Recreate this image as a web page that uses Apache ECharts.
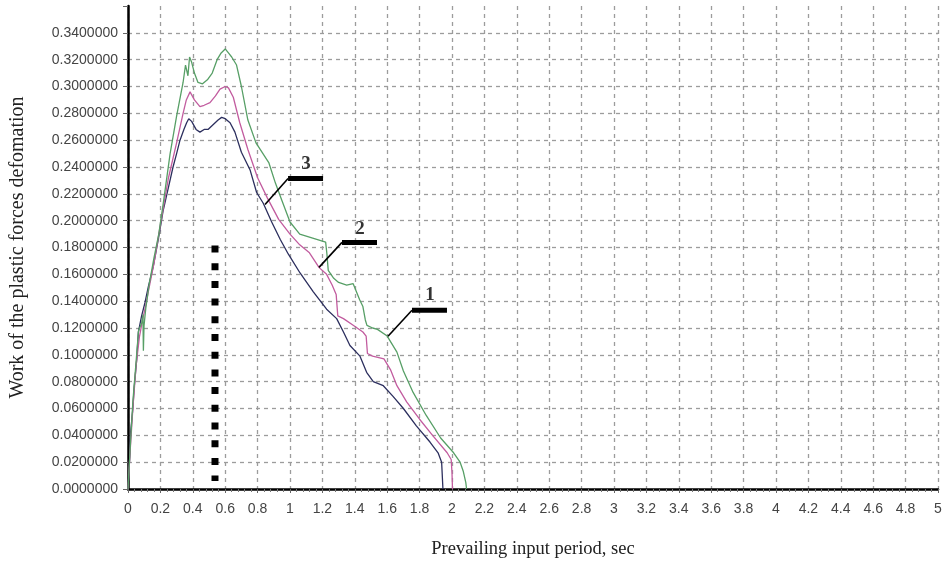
<!DOCTYPE html>
<html>
<head>
<meta charset="utf-8">
<script src="https://cdn.jsdelivr.net/npm/echarts@6/dist/echarts.min.js"></script>
<style>
  html, body { margin: 0; padding: 0; background: #fff; }
  #chart { width: 947px; height: 564px; }
</style>
</head>
<body>
<div id="chart"></div>
<script>
// Curve 1 (upper, green)
const curve1Period = [0, 0.012, 0.03, 0.05, 0.065, 0.085, 0.092, 0.095, 0.099, 0.11, 0.13, 0.16, 0.19, 0.22, 0.26, 0.30, 0.34, 0.355, 0.37, 0.38, 0.393, 0.41, 0.432, 0.46, 0.49, 0.52, 0.55, 0.575, 0.6, 0.62, 0.64, 0.67, 0.70, 0.74, 0.79, 0.87, 0.91, 0.95, 1.0, 1.06, 1.14, 1.22, 1.228, 1.236, 1.27, 1.30, 1.35, 1.39, 1.43, 1.45, 1.465, 1.475, 1.51, 1.54, 1.60, 1.66, 1.70, 1.76, 1.84, 1.93, 2.01, 2.05, 2.07, 2.085, 2.09];
const curve1Work = [0, 0.027, 0.065, 0.095, 0.118, 0.124, 0.13, 0.103, 0.122, 0.135, 0.152, 0.172, 0.19, 0.215, 0.25, 0.278, 0.303, 0.316, 0.308, 0.322, 0.318, 0.31, 0.303, 0.302, 0.305, 0.31, 0.32, 0.325, 0.328, 0.325, 0.322, 0.316, 0.30, 0.275, 0.258, 0.243, 0.228, 0.215, 0.199, 0.19, 0.187, 0.184, 0.175, 0.163, 0.157, 0.154, 0.152, 0.153, 0.141, 0.136, 0.126, 0.122, 0.120, 0.119, 0.114, 0.102, 0.088, 0.072, 0.055, 0.038, 0.027, 0.02, 0.013, 0.005, 0];

// Curve 2 (middle, pink)
const curve2Period = [0, 0.012, 0.03, 0.05, 0.07, 0.09, 0.11, 0.13, 0.16, 0.2, 0.25, 0.3, 0.34, 0.36, 0.383, 0.41, 0.444, 0.47, 0.506, 0.54, 0.568, 0.6, 0.62, 0.65, 0.69, 0.74, 0.80, 0.86, 0.93, 1.0, 1.06, 1.12, 1.18, 1.226, 1.26, 1.285, 1.295, 1.33, 1.39, 1.45, 1.47, 1.478, 1.51, 1.58, 1.62, 1.66, 1.72, 1.80, 1.88, 1.97, 1.995, 2.0, 2.003];
const curve2Work = [0, 0.026, 0.06, 0.092, 0.113, 0.126, 0.137, 0.15, 0.168, 0.197, 0.232, 0.258, 0.28, 0.29, 0.296, 0.29, 0.285, 0.286, 0.288, 0.293, 0.298, 0.30, 0.299, 0.292, 0.273, 0.253, 0.232, 0.217, 0.201, 0.19, 0.182, 0.176, 0.165, 0.16, 0.152, 0.145, 0.129, 0.127, 0.122, 0.117, 0.114, 0.101, 0.099, 0.097, 0.089, 0.077, 0.065, 0.052, 0.04, 0.027, 0.022, 0.012, 0];

// Curve 3 (lower, navy)
const curve3Period = [0, 0.012, 0.016, 0.03, 0.037, 0.054, 0.064, 0.084, 0.105, 0.126, 0.156, 0.187, 0.216, 0.25, 0.278, 0.30, 0.321, 0.345, 0.362, 0.375, 0.393, 0.42, 0.444, 0.47, 0.494, 0.52, 0.556, 0.578, 0.6, 0.63, 0.66, 0.70, 0.753, 0.794, 0.835, 0.887, 0.94, 0.99, 1.062, 1.144, 1.226, 1.288, 1.33, 1.37, 1.432, 1.473, 1.514, 1.576, 1.636, 1.70, 1.78, 1.864, 1.914, 1.936, 1.944];
const curve3Work = [0, 0.027, 0.042, 0.06, 0.074, 0.097, 0.117, 0.129, 0.139, 0.151, 0.166, 0.186, 0.207, 0.225, 0.24, 0.25, 0.26, 0.268, 0.273, 0.276, 0.274, 0.268, 0.266, 0.268, 0.268, 0.271, 0.275, 0.277, 0.276, 0.273, 0.266, 0.251, 0.238, 0.221, 0.213, 0.199, 0.186, 0.175, 0.161, 0.147, 0.134, 0.127, 0.117, 0.107, 0.099, 0.087, 0.080, 0.077, 0.069, 0.060, 0.047, 0.035, 0.027, 0.02, 0];

// Dotted marker line (period, work range)
const markerPeriod = 0.537;
const markerWork = [0.1815, 0.006];

// Curve number callouts: label, point on the curve, elbow, end of bar, text position
const callouts = [
  { text: '1', anchor: [1.605, 0.1138], elbow: [1.753, 0.1332], end: [1.969, 0.1332], at: [1.864, 0.1445] },
  { text: '2', anchor: [1.179, 0.1652], elbow: [1.321, 0.1838], end: [1.537, 0.1838], at: [1.432, 0.1935] },
  { text: '3', anchor: [0.846, 0.2120], elbow: [0.988, 0.2314], end: [1.204, 0.2314], at: [1.099, 0.2425] }
];

const zip = (xs, ys) => xs.map((x, i) => [x, ys[i]]);

const series = [];
const curveStyle = (color) => ({
  type: 'line', showSymbol: false, symbol: 'none', smooth: false,
  lineStyle: { color, width: 1.3 }, z: 3
});
series.push(Object.assign(curveStyle('#2c2f5e'), { name: '3', data: zip(curve3Period, curve3Work) }));
series.push(Object.assign(curveStyle('#c25c9f'), { name: '2', data: zip(curve2Period, curve2Work) }));
series.push(Object.assign(curveStyle('#579f66'), { name: '1', data: zip(curve1Period, curve1Work) }));

series.push({
  type: 'line', symbol: 'none', z: 4,
  data: markerWork.map(w => [markerPeriod, w]),
  lineStyle: { color: '#000', width: 7, type: [7, 10.7], cap: 'butt' }
});

callouts.forEach(c => {
  series.push({
    type: 'line', symbol: 'none', z: 5,
    data: [c.anchor, c.elbow],
    lineStyle: { color: '#000', width: 1.6 }
  });
  series.push({
    type: 'line', symbol: 'none', z: 5,
    data: [c.elbow, c.end],
    lineStyle: { color: '#000', width: 5, cap: 'butt' }
  });
  series.push({
    type: 'scatter', z: 6, symbolSize: 1,
    itemStyle: { color: 'transparent' },
    data: [c.at],
    label: {
      show: true, position: 'inside', formatter: c.text,
      fontFamily: '"Liberation Serif", "Times New Roman", serif',
      fontWeight: 'bold', fontSize: 19, color: '#000'
    }
  });
});

const gridLine = { show: true, lineStyle: { color: '#9c9c9c', width: 1.3, type: [4, 4] } };
const tickFont = { fontFamily: '"Liberation Sans", Arial, sans-serif', fontSize: 14, color: '#444' };
const nameFont = { fontFamily: '"Liberation Serif", "Times New Roman", serif', color: '#222' };

const chart = echarts.init(document.getElementById('chart'), null, { renderer: 'canvas' });
chart.setOption({
  animation: false,
  backgroundColor: '#fff',
  grid: { left: 128, right: 9, top: 6, bottom: 74, containLabel: false },
  xAxis: {
    type: 'value', min: 0, max: 5, interval: 0.2,
    name: 'Prevailing input period, sec', nameLocation: 'middle', nameGap: 51,
    nameTextStyle: Object.assign({ fontSize: 18.5 }, nameFont),
    axisLine: { show: true, onZero: false, lineStyle: { color: '#000', width: 2.5 } },
    axisTick: { show: true, length: 4, lineStyle: { color: '#666', width: 1 } },
    minorTick: { show: true, splitNumber: 5, length: 3, lineStyle: { color: '#777', width: 1 } },
    axisLabel: Object.assign({ margin: 13, formatter: v => String(+v.toFixed(1)) }, tickFont),
    splitLine: gridLine
  },
  yAxis: {
    type: 'value', min: 0, max: 0.36, interval: 0.02,
    name: 'Work of the plastic forces defomation', nameLocation: 'middle', nameGap: 100,
    nameTextStyle: Object.assign({ fontSize: 20 }, nameFont),
    axisLine: { show: true, onZero: false, lineStyle: { color: '#000', width: 2.5 } },
    axisTick: { show: true, length: 5, lineStyle: { color: '#666', width: 1 } },
    axisLabel: Object.assign({ margin: 10, formatter: v => (v > 0.345 ? '' : v.toFixed(7)) }, tickFont),
    splitLine: Object.assign({ showMaxLine: false }, gridLine)
  },
  series
});
</script>
</body>
</html>
